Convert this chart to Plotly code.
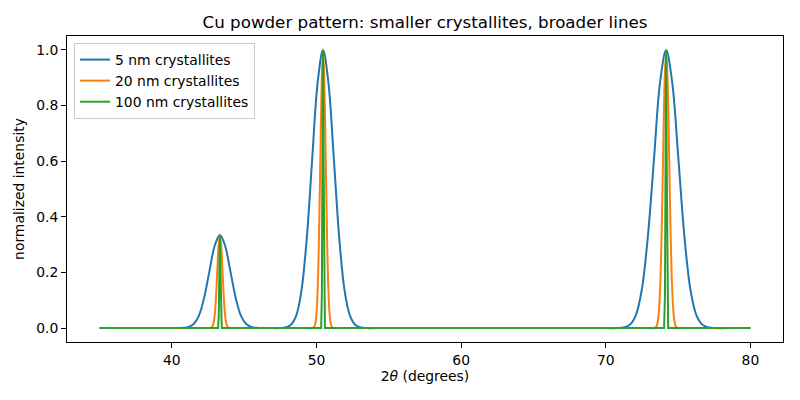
import plotly.graph_objects as go

# 2-theta / normalized intensity samples
x_5nm = [35.0,
         39.68, 40.42, 40.78, 41.14, 41.51, 41.87, 42.23, 42.59, 42.96, 43.32,
         43.68, 44.05, 44.41, 44.77, 45.14, 45.50, 45.86, 46.22,
         46.72, 47.47, 47.84, 48.21, 48.59, 48.96, 49.33, 49.70, 50.08, 50.45,
         50.82, 51.20, 51.57, 51.94, 52.32, 52.69, 53.06, 53.43, 54.18,
         69.94, 70.79, 71.21, 71.64, 72.06, 72.48, 72.90, 73.33, 73.75, 74.17,
         74.59, 75.02, 75.44, 75.86, 76.28, 76.71, 77.13, 77.55, 78.40,
         80.0]
y_5nm = [0.0,
         0.0, 0.0, 0.001, 0.004, 0.015, 0.045, 0.109, 0.203, 0.296, 0.335,
         0.296, 0.203, 0.109, 0.045, 0.015, 0.004, 0.001, 0.0,
         0.0, 0.0, 0.002, 0.011, 0.044, 0.135, 0.325, 0.607, 0.883, 1.0,
         0.883, 0.607, 0.325, 0.135, 0.044, 0.011, 0.002, 0.0, 0.0,
         0.0, 0.0, 0.002, 0.011, 0.044, 0.135, 0.325, 0.607, 0.883, 1.0,
         0.883, 0.607, 0.325, 0.135, 0.044, 0.011, 0.002, 0.0, 0.0,
         0.0]

x_20nm = [35.0,
          42.41, 42.594, 42.685, 42.775, 42.866, 42.957, 43.048, 43.138, 43.229, 43.32,
          43.411, 43.502, 43.592, 43.683, 43.774, 43.865, 43.955, 44.046, 44.23,
          49.52, 49.704, 49.797, 49.891, 49.984, 50.077, 50.170, 50.263, 50.357, 50.45,
          50.543, 50.637, 50.730, 50.823, 50.916, 51.009, 51.103, 51.196, 51.38,
          73.11, 73.324, 73.430, 73.536, 73.642, 73.747, 73.853, 73.959, 74.064, 74.17,
          74.276, 74.381, 74.487, 74.593, 74.699, 74.804, 74.910, 75.016, 75.23,
          80.0]
y_20nm = [0.0,
          0.0, 0.0, 0.001, 0.004, 0.015, 0.045, 0.109, 0.203, 0.296, 0.335,
          0.296, 0.203, 0.109, 0.045, 0.015, 0.004, 0.001, 0.0, 0.0,
          0.0, 0.0, 0.002, 0.011, 0.044, 0.135, 0.325, 0.607, 0.883, 1.0,
          0.883, 0.607, 0.325, 0.135, 0.044, 0.011, 0.002, 0.0, 0.0,
          0.0, 0.0, 0.002, 0.011, 0.044, 0.135, 0.325, 0.607, 0.883, 1.0,
          0.883, 0.607, 0.325, 0.135, 0.044, 0.011, 0.002, 0.0, 0.0,
          0.0]

x_100nm = [35.0,
           43.19, 43.24, 43.28, 43.32, 43.36, 43.40, 43.45,
           50.32, 50.37, 50.41, 50.45, 50.49, 50.53, 50.58,
           74.03, 74.09, 74.13, 74.17, 74.21, 74.25, 74.31,
           80.0]
y_100nm = [0.0,
           0.0, 0.04, 0.2, 0.335, 0.2, 0.04, 0.0,
           0.0, 0.12, 0.6, 1.0, 0.6, 0.12, 0.0,
           0.0, 0.12, 0.6, 1.0, 0.6, 0.12, 0.0,
           0.0]

series = [
    ("5 nm crystallites", x_5nm, y_5nm, "#1f77b4", "spline"),
    ("20 nm crystallites", x_20nm, y_20nm, "#ff7f0e", "spline"),
    ("100 nm crystallites", x_100nm, y_100nm, "#2ca02c", "linear"),
]

fig = go.Figure()
for name, xs, ys, color, shape in series:
    fig.add_trace(go.Scatter(x=xs, y=ys, mode="lines", name=name,
                             line=dict(color=color, width=2, shape=shape)))

axis_style = dict(showline=True, mirror=True, linecolor="black", linewidth=1,
                  ticks="outside", ticklen=5, tickcolor="black",
                  showgrid=False, zeroline=False,
                  tickfont=dict(size=13.9, color="black"))

# page body has an 8px margin, so the figure is a bit smaller than the window
fig.update_layout(
    width=784, height=384,
    font=dict(family="DejaVu Sans", size=13.9, color="black"),
    paper_bgcolor="white", plot_bgcolor="white",
    margin=dict(l=59, r=9, t=28, b=50),
    title=dict(text="Cu powder pattern: smaller crystallites, broader lines",
               x=0.5, xref="paper", xanchor="center",
               y=1 - 14 / 384, yref="container", yanchor="middle",
               font=dict(size=16.7)),
    legend=dict(x=0.0098, y=0.977, xanchor="left", yanchor="top",
                bgcolor="rgba(255,255,255,0.8)", bordercolor="#cccccc",
                borderwidth=1, font=dict(size=13.9)),
)
fig.update_xaxes(range=[32.75, 82.25], tickvals=[40, 50, 60, 70, 80],
                 title=dict(text="2<i>θ</i> (degrees)", standoff=4,
                            font=dict(size=13.9)), **axis_style)
fig.update_yaxes(range=[-0.05, 1.05], tickvals=[0, 0.2, 0.4, 0.6, 0.8, 1.0],
                 tickformat=".1f",
                 title=dict(text="normalized intensity", standoff=8,
                            font=dict(size=13.9)), **axis_style)

fig.write_html("out.html")
